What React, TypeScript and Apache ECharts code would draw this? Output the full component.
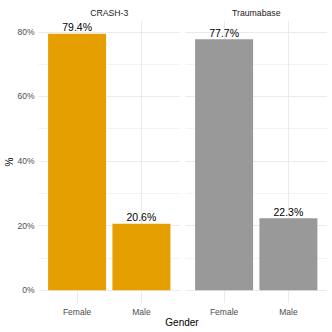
import React, { useEffect, useRef } from "react";
import * as echarts from "echarts";

const facets = ["CRASH-3", "Traumabase"];
const categories = ["Female", "Male"];
const crash3Values = [79.4, 20.6];
const traumabaseValues = [77.7, 22.3];
const yTicks = [0, 20, 40, 60, 80];
const yMinorTicks = [10, 30, 50, 70];
const facetColors = ["#E69F00", "#999999"];

const FONT = "Liberation Sans, Arial, sans-serif";

export default function App() {
  const ref = useRef<HTMLDivElement>(null);
  useEffect(() => {
    if (!ref.current) return;
    const chart = echarts.init(ref.current, undefined, { renderer: "svg" });
    const valuesByFacet = [crash3Values, traumabaseValues];
    const panelLefts = [38.5, 185.5];
    const panelWidth = 141.5;
    const yMin = -3.97;
    const yMax = 83.37;
    const catPos = categories.map((_, i) => i + 1);

    const grids = panelLefts.map((l) => ({ left: l, top: 21, width: panelWidth, height: 282, containLabel: false }));
    const xAxes = facets.map((_, i) => ({
      type: "value",
      gridIndex: i,
      min: 0.4,
      max: 2.6,
      axisLine: { show: false },
      axisTick: { show: false, customValues: catPos },
      axisLabel: {
        customValues: catPos,
        formatter: (v: number) => categories[Math.round(v) - 1] ?? "",
        color: "#4d4d4d",
        fontSize: 8.5,
        fontFamily: FONT,
        margin: 4,
      },
      splitLine: { show: true, lineStyle: { color: "#ebebeb", width: 1 } },
    }));
    const yAxes: any[] = [];
    facets.forEach((_, i) => {
      yAxes.push({
        type: "value",
        gridIndex: i,
        min: yMin,
        max: yMax,
        axisLine: { show: false },
        axisTick: { show: false, customValues: yMinorTicks },
        axisLabel: { show: false, customValues: yMinorTicks },
        splitLine: { show: true, lineStyle: { color: "#f3f3f3", width: 1 } },
      });
      yAxes.push({
        type: "value",
        gridIndex: i,
        min: yMin,
        max: yMax,
        position: "left",
        axisLine: { show: false },
        axisTick: { show: false, customValues: yTicks },
        axisLabel: {
          show: i === 0,
          customValues: yTicks,
          formatter: (v: number) => `${v}%`,
          color: "#4d4d4d",
          fontSize: 8.5,
          fontFamily: FONT,
          margin: 4,
        },
        splitLine: { show: true, lineStyle: { color: "#ebebeb", width: 1 } },
      });
    });

    const series: any[] = facets.map((_, i) => ({
      type: "bar",
      xAxisIndex: i,
      yAxisIndex: i * 2 + 1,
      barWidth: 58,
      itemStyle: { color: facetColors[i] },
      data: valuesByFacet[i].map((v, j) => [catPos[j], v]),
      label: {
        show: true,
        position: "top",
        distance: 1,
        formatter: (p: any) => `${p.value[1].toFixed(1)}%`,
        color: "#000",
        fontSize: 10.5,
        fontFamily: FONT,
      },
    }));

    chart.setOption({
      animation: false,
      backgroundColor: "#fff",
      grid: grids,
      xAxis: xAxes,
      yAxis: yAxes,
      series,
      graphic: [
        ...facets.map((f, i) => ({
          type: "text",
          x: panelLefts[i] + panelWidth / 2,
          y: 13,
          style: { text: f, fill: "#1a1a1a", fontSize: 8.7, fontFamily: FONT, textAlign: "center", textVerticalAlign: "middle" },
        })),
        {
          type: "text",
          x: 182,
          y: 322,
          style: { text: "Gender", fill: "#000", fontSize: 10, fontFamily: FONT, textAlign: "center", textVerticalAlign: "middle" },
        },
        {
          type: "text",
          x: 9,
          y: 162,
          rotation: Math.PI / 2,
          style: { text: "%", fill: "#000", fontSize: 10, fontFamily: FONT, textAlign: "center", textVerticalAlign: "middle" },
        },
      ],
    });
    return () => chart.dispose();
  }, []);
  return <div ref={ref} style={{ position: "fixed", left: 0, top: 0, width: 332, height: 332 }} />;
}
